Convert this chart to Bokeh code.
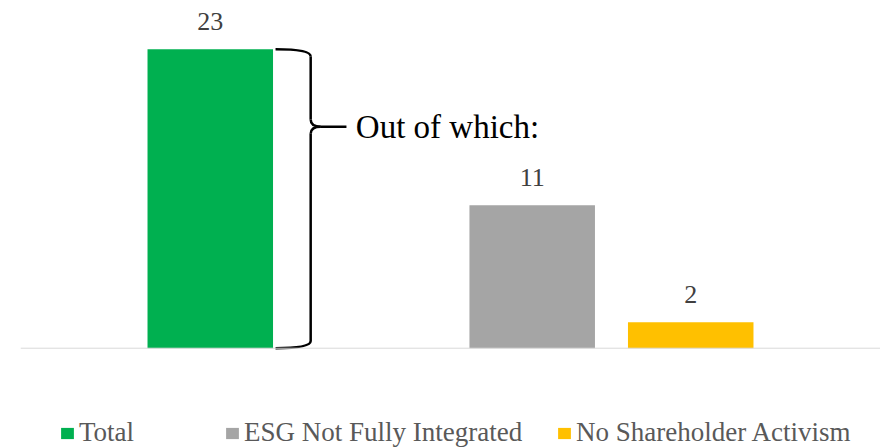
from bokeh.plotting import figure
from bokeh.models import FactorRange, Range1d, ColumnDataSource, LabelSet, Legend, LegendItem, Span
from bokeh.core.properties import value
from bokeh.embed import file_html
from bokeh.resources import INLINE

# ---- data ----
groups = ["A", "B", "B"]
categories = ["Total", "ESG Not Fully Integrated", "No Shareholder Activism"]
values = [23, 11, 2]
colors = ["#00B050", "#A5A5A5", "#FFC000"]
brace_text = "Out of which:"

factors = list(zip(groups, categories))
src = ColumnDataSource(dict(x=factors, top=values, color=colors,
                            label=[str(v) for v in values]))

FONT = "Liberation Serif"

p = figure(
    x_range=FactorRange(*factors, group_padding=1.565, factor_padding=0.263,
                        range_padding=1.012, range_padding_units="absolute"),
    y_range=Range1d(-7.715, 26.75),
    width=880, height=448,
    output_backend="svg", toolbar_location=None,
    min_border_left=20, min_border_right=0, min_border_top=0, min_border_bottom=0,
)
p.outline_line_color = None
p.xgrid.grid_line_color = None
p.ygrid.grid_line_color = None
p.yaxis.visible = False
p.xaxis.visible = False

# baseline (category axis line)
p.add_layout(Span(location=0, dimension="width", line_color="#D9D9D9", line_width=1))

bars = p.vbar(x="x", top="top", width=1.0, bottom=0, source=src,
              fill_color="color", line_color=None)

labels = LabelSet(x="x", y="top", text="label", source=src, y_offset=19.5,
                  text_align="center", text_baseline="alphabetic",
                  text_font=value(FONT), text_font_size=value("26px"),
                  text_color=value("#404040"))
p.add_layout(labels)

# ---- brace around the Total bar ----
tot_g, tot_c, tot_v = groups[0], categories[0], values[0]
arm, spine, tip, lead = 0.52, 0.80, 0.88, 1.085
tip_y = tot_v * 0.741
r = 0.55


def X(off):
    return (tot_g, tot_c, off)


p.quadratic(x0=[X(arm), X(spine), X(tip), X(spine)],
            y0=[tot_v, tip_y + r, tip_y, 0 + r],
            cx=[X(spine), X(spine), X(spine), X(spine)],
            cy=[tot_v, tip_y, tip_y, 0],
            x1=[X(spine), X(tip), X(spine), X(arm)],
            y1=[tot_v - r, tip_y, tip_y - r, 0],
            line_color="black", line_width=2.5)
p.segment(x0=[X(spine), X(spine), X(tip)],
          y0=[tot_v - r, tip_y - r, tip_y],
          x1=[X(spine), X(spine), X(lead)],
          y1=[tip_y + r, 0 + r, tip_y],
          line_color="black", line_width=2.5)
p.text(x=[X(1.16)], y=[tip_y], text=[brace_text], text_baseline="middle",
       text_align="left", text_font=value(FONT), text_font_size=value("33px"),
       text_color="black")

# ---- legends ----
legend_x = [39, 204, 536]
for i, (cat, lx) in enumerate(zip(categories, legend_x)):
    lg = Legend(items=[LegendItem(label=cat, renderers=[bars], index=i)],
                location=(lx, 0), orientation="horizontal",
                glyph_width=16, glyph_height=14, label_standoff=4,
                label_text_font=FONT, label_text_font_size="27px",
                label_text_color="#595959", padding=0, margin=0,
                border_line_color=None, background_fill_alpha=0)
    p.add_layout(lg)

open("out.html", "w").write(file_html(p, INLINE))
